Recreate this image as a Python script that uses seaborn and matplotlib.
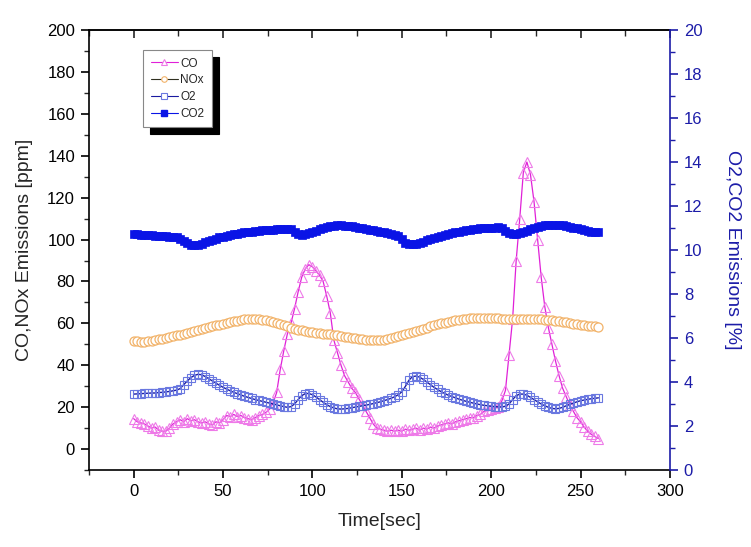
import numpy as np
import matplotlib
matplotlib.use("Agg")
import matplotlib.pyplot as plt
from matplotlib.ticker import MultipleLocator
from matplotlib.lines import Line2D
import seaborn as sns

# ---------------- data ----------------
time_sec = np.arange(0, 262, 2)

co_ppm = [14.5, 13, 12.5, 12, 11, 10, 10.5, 9, 8.5, 8.5,
          10, 12, 13, 14, 13, 14.5, 13.5, 14, 13, 12.5,
          13, 12, 11.5, 13, 12.5, 14, 16, 15.5, 16.5, 15.5,
          16, 15, 14.5, 14, 15, 16, 16.5, 17.5, 19, 22,
          27, 38, 47, 55, 60, 67, 75, 82, 86, 88,
          87, 85, 83, 80, 73, 65, 52, 46, 40, 35,
          32, 29, 27, 24, 21, 18, 15, 12, 10, 9.5,
          9, 8.5, 9, 8.5, 9, 8.5, 9.5, 9, 9.5, 10,
          9, 10, 9.5, 10.5, 10, 11, 11.5, 12, 12.5, 12,
          13, 13.5, 14, 14.5, 15, 15, 16, 16.5, 18, 18.5,
          19, 19.5, 20, 23, 28, 45, 62, 90, 110, 132,
          137, 131, 118, 100, 82, 68, 58, 50, 42, 35,
          29, 25, 21, 18, 15, 13, 10.5, 8.5, 7, 6,
          5]

nox_ppm = [51.5, 51.5, 51.3, 51.3, 51.5, 51.7, 52, 52.3, 52.7, 53,
           53.4, 53.8, 54.2, 54.6, 55, 55.5, 56, 56.5, 57, 57.4,
           57.8, 58.2, 58.6, 59, 59.4, 59.8, 60.2, 60.6, 61, 61.3,
           61.6, 61.9, 62.1, 62.2, 62.2, 62, 61.7, 61.4, 61, 60.5,
           60, 59.5, 59, 58.5, 58, 57.5, 57, 56.7, 56.4, 56.1,
           55.8, 55.5, 55.3, 55.1, 54.9, 54.7, 54.5, 54.2, 54, 53.7,
           53.4, 53.1, 52.8, 52.6, 52.4, 52.2, 52.1, 52, 52, 52,
           52.2, 52.5, 52.9, 53.3, 53.8, 54.3, 54.8, 55.3, 55.9, 56.5,
           57, 57.5, 58, 58.5, 59, 59.5, 60, 60.4, 60.8, 61.2,
           61.5, 61.8, 62.1, 62.3, 62.5, 62.6, 62.6, 62.6, 62.6, 62.5,
           62.5, 62.4, 62.4, 62.3, 62.3, 62.3, 62.3, 62.3, 62.3, 62.2,
           62.2, 62.1, 62, 62, 61.9, 61.8, 61.6, 61.4, 61.2, 61,
           60.8, 60.5, 60.2, 59.9, 59.6, 59.3, 59, 58.8, 58.6, 58.5,
           58.4]

o2_pct = [3.45, 3.46, 3.47, 3.48, 3.49, 3.5, 3.5, 3.52, 3.53, 3.55,
          3.57, 3.6, 3.63, 3.7, 3.88, 4.05, 4.2, 4.3, 4.35, 4.33,
          4.25, 4.15, 4.05, 3.95, 3.85, 3.76, 3.68, 3.6, 3.53, 3.47,
          3.41, 3.35, 3.3, 3.25, 3.2, 3.16, 3.12, 3.08, 3.04, 3.0,
          2.96, 2.92, 2.88, 2.85, 2.88, 3.0, 3.2, 3.38, 3.47, 3.48,
          3.42, 3.32, 3.2, 3.08, 2.97, 2.88, 2.82, 2.78, 2.77, 2.78,
          2.8, 2.83, 2.86, 2.89, 2.92, 2.95, 2.98, 3.02, 3.06, 3.1,
          3.15, 3.2, 3.26, 3.33, 3.42, 3.55, 3.8, 4.08, 4.25, 4.27,
          4.22, 4.12, 4.0, 3.88, 3.76, 3.66, 3.56, 3.48, 3.4, 3.34,
          3.28, 3.22, 3.17, 3.12, 3.08, 3.04, 3.0, 2.97, 2.94, 2.92,
          2.9, 2.88, 2.87, 2.86, 2.9, 3.0, 3.2, 3.38, 3.45, 3.45,
          3.4, 3.3, 3.2, 3.1, 3.0, 2.92, 2.85, 2.8, 2.78, 2.8,
          2.85, 2.92, 2.98, 3.04, 3.1, 3.15, 3.18, 3.21, 3.24, 3.26,
          3.28]

co2_pct = [10.72, 10.71, 10.7, 10.69, 10.68, 10.67, 10.66, 10.64, 10.63, 10.62,
           10.61, 10.6, 10.57, 10.52, 10.4, 10.3, 10.23, 10.22, 10.25, 10.29,
           10.35, 10.41, 10.47, 10.52, 10.57, 10.61, 10.65, 10.69, 10.72, 10.75,
           10.78, 10.8, 10.82, 10.84, 10.86, 10.88, 10.9, 10.91, 10.92, 10.93,
           10.94, 10.95, 10.96, 10.97, 10.97, 10.83, 10.72, 10.69, 10.72, 10.76,
           10.82, 10.88, 10.94, 11.0, 11.05, 11.09, 11.11, 11.12, 11.12, 11.11,
           11.09, 11.07, 11.04, 11.01, 10.98, 10.95, 10.92, 10.89, 10.86, 10.83,
           10.8, 10.77, 10.74, 10.7, 10.62, 10.48, 10.34, 10.27, 10.26, 10.29,
           10.33, 10.38, 10.44, 10.5, 10.56, 10.61, 10.66, 10.7, 10.74, 10.78,
           10.81, 10.84, 10.87, 10.9, 10.92, 10.94, 10.96, 10.98, 10.99, 11.0,
           11.01, 11.02, 11.03, 10.98, 10.86, 10.76, 10.72, 10.74, 10.78, 10.83,
           10.88, 10.94, 11.0, 11.05, 11.09, 11.12, 11.14, 11.15, 11.15, 11.14,
           11.12, 11.09, 11.06, 11.02, 10.98, 10.94, 10.9, 10.87, 10.84, 10.82,
           10.8]

x_ticks = [0, 50, 100, 150, 200, 250, 300]
left_ticks = [0, 20, 40, 60, 80, 100, 120, 140, 160, 180, 200]
right_ticks = [0, 2, 4, 6, 8, 10, 12, 14, 16, 18, 20]
series_names = ['CO', 'NOx', 'O2', 'CO2']

# ---------------- style ----------------
sns.set_style("ticks")
plt.rcParams['font.family'] = ['Liberation Sans', 'DejaVu Sans']

BLUE_AX = '#1c1ca8'
CO_LINE, CO_MK = '#e020d8', '#ee7ae8'
NOX_LINE, NOX_MK = '#303020', '#f2b36a'
O2_LINE, O2_MK = '#1a1aa0', '#6a78e0'
CO2_C = '#0a14e6'

fig = plt.figure(figsize=(7.51, 5.47), dpi=100)
ax = fig.add_axes([0.1185, 0.1408, 0.7735, 0.8042])
ax2 = ax.twinx()

# left axis series
sns.lineplot(x=time_sec, y=co_ppm, ax=ax, color=CO_LINE, lw=0.9,
             marker='^', ms=6.5, markerfacecolor='none', markeredgecolor=CO_MK,
             markeredgewidth=0.8, legend=False)
sns.lineplot(x=time_sec, y=nox_ppm, ax=ax, color=NOX_LINE, lw=0.8,
             marker='o', ms=6.5, markerfacecolor='white', markeredgecolor=NOX_MK,
             markeredgewidth=0.9, legend=False)

# right axis series
sns.lineplot(x=time_sec, y=o2_pct, ax=ax2, color=O2_LINE, lw=1.0,
             marker='s', ms=5.5, markerfacecolor='none', markeredgecolor=O2_MK,
             markeredgewidth=0.8, legend=False)
sns.lineplot(x=time_sec, y=co2_pct, ax=ax2, color=CO2_C, lw=3,
             marker='s', ms=6, markerfacecolor=CO2_C, markeredgecolor=CO2_C,
             markeredgewidth=0.5, legend=False)

# limits & ticks
ax.set_xlim(-25, 300)
ax.set_ylim(-10, 200)
ax2.set_ylim(0, 20)
ax.set_xticks(x_ticks)
ax.set_yticks(left_ticks)
ax2.set_yticks(right_ticks)
ax.xaxis.set_minor_locator(MultipleLocator(25))
ax.yaxis.set_minor_locator(MultipleLocator(10))
ax2.yaxis.set_minor_locator(MultipleLocator(1))

ax.tick_params(axis='both', which='major', direction='out', length=6, width=1.2,
               labelsize=12, colors='black', pad=4)
ax.tick_params(axis='both', which='minor', direction='out', length=3.5, width=1.0)
ax.tick_params(axis='x', top=False)
ax2.tick_params(axis='y', which='major', direction='out', length=6, width=1.2,
                labelsize=12, colors=BLUE_AX, pad=4)
ax2.tick_params(axis='y', which='minor', direction='out', length=3.5, width=1.0,
                colors=BLUE_AX)

sec = ax.secondary_xaxis('top')
sec.set_xticks(x_ticks)
sec.xaxis.set_minor_locator(MultipleLocator(25))
sec.tick_params(axis='x', which='major', direction='in', length=6, width=1.2,
                labeltop=False)
sec.tick_params(axis='x', which='minor', direction='in', length=4, width=1.0)
sec.spines['top'].set_linewidth(1.2)

for sp in ['left', 'bottom', 'top']:
    ax.spines[sp].set_linewidth(1.2)
    ax.spines[sp].set_color('black')
ax.spines['right'].set_visible(False)
for sp in ['left', 'bottom', 'top']:
    ax2.spines[sp].set_visible(False)
ax2.spines['right'].set_color(BLUE_AX)
ax2.spines['right'].set_linewidth(1.2)

ax.set_xlabel('Time[sec]', fontsize=14, labelpad=10)
ax.set_ylabel('CO,NOx Emissions [ppm]', fontsize=14, labelpad=10)
ax2.set_ylabel('O2,CO2 Emissions [%]', fontsize=14, color=BLUE_AX,
               rotation=270, labelpad=28)

# legend with thin-line handles
handles = [
    Line2D([], [], color=CO_LINE, lw=0.8, marker='^', ms=4.5, mfc='white', mec=CO_MK, mew=0.8),
    Line2D([], [], color=NOX_LINE, lw=0.8, marker='o', ms=4, mfc='white', mec=NOX_MK, mew=0.8),
    Line2D([], [], color=O2_LINE, lw=0.8, marker='s', ms=4, mfc='white', mec=O2_MK, mew=0.8),
    Line2D([], [], color=CO2_C, lw=0.8, marker='s', ms=4, mfc=CO2_C, mec=CO2_C),
]
leg = ax2.legend(handles, series_names, loc='upper left', bbox_to_anchor=(0.093, 0.955),
                 borderaxespad=0, fontsize=8.5, frameon=True, fancybox=False,
                 handlelength=2.3, handletextpad=0.2, labelspacing=0.4,
                 borderpad=0.65,
                 shadow={'ox': 5, 'oy': -5, 'color': 'black', 'alpha': 1})
leg.get_frame().set_edgecolor('#888888')
leg.get_frame().set_linewidth(0.8)
leg.get_frame().set_facecolor('white')
leg.get_frame().set_alpha(1)

fig.savefig('out.png', dpi=100)
